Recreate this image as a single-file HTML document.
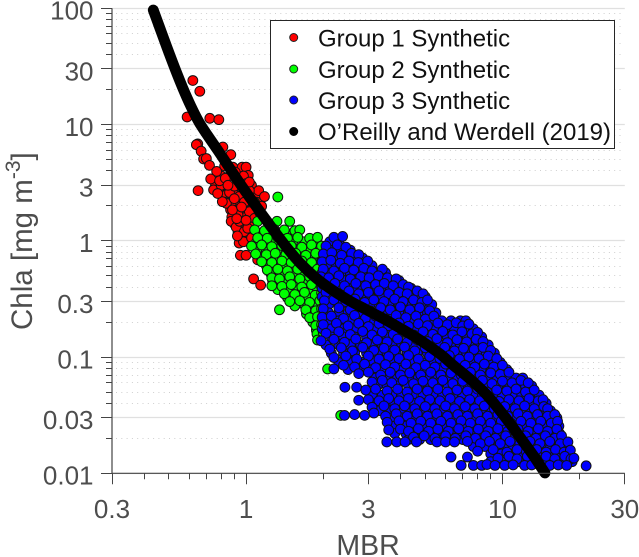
<!DOCTYPE html>
<html lang="en">
<head>
<meta charset="utf-8">
<title>Chla vs MBR</title>
<style>
html,body{margin:0;padding:0;background:#fff;width:639px;height:557px;overflow:hidden}
svg{display:block}
text{font-family:"Liberation Sans",Arial,sans-serif;fill:#4d4d4d}
.lg{fill:#111;font-size:24px}
</style>
</head>
<body>
<svg id="chart" width="639" height="557" viewBox="0 0 639 557" xmlns="http://www.w3.org/2000/svg">
<g id="grid"></g>
<g id="red"></g>
<g id="green"></g>
<g id="blue"></g>
<path id="curve" fill="none" stroke="#000" stroke-width="10.8" stroke-linecap="round" stroke-linejoin="round"/>
<g id="axes"></g>
<text x="368" y="555" text-anchor="middle" font-size="28.5">MBR</text>
<text transform="translate(32,330) rotate(-90)" font-size="29.5">Chla [mg m<tspan dy="-12" font-size="21">-3</tspan><tspan dy="12">]</tspan></text>
<g>
<rect x="270.5" y="20.5" width="344" height="128" fill="#fff" stroke="#262626" stroke-width="1"/>
<circle cx="293.7" cy="37.5" r="4" fill="#f00" stroke="#222"/>
<text class="lg" x="318" y="46.5">Group 1 Synthetic</text>
<circle cx="293.7" cy="69" r="4" fill="#0f0" stroke="#222"/>
<text class="lg" x="318" y="78">Group 2 Synthetic</text>
<circle cx="293.7" cy="100" r="4" fill="#00f" stroke="#222"/>
<text class="lg" x="318" y="109">Group 3 Synthetic</text>
<circle cx="293.7" cy="131.5" r="4" fill="#000" stroke="#000"/>
<text class="lg" x="318" y="140">O’Reilly and Werdell (2019)</text>
</g>
</svg>
<script>
const xMajorTicks = [0.3, 1, 3, 10, 30];
const xMinorTicks = [0.4, 0.5, 0.6, 0.7, 0.8, 0.9, 2, 4, 5, 6, 7, 8, 9, 20];
const yMajorTicks = [0.01, 0.03, 0.1, 0.3, 1, 3, 10, 30, 100];
const yMinorTicks = [0.02, 0.04, 0.05, 0.06, 0.07, 0.08, 0.09, 0.2, 0.4, 0.5, 0.6, 0.7, 0.8, 0.9, 2, 4, 5, 6, 7, 8, 9, 20, 40, 50, 60, 70, 80, 90];
const curveMbr = [0.4346, 0.4618, 0.4916, 0.528, 0.5675, 0.6097, 0.655, 0.7105, 0.796, 0.955, 1.185, 1.431, 1.623, 1.874, 2.183, 2.543, 2.962, 3.481, 3.983, 4.77, 5.71, 6.41, 7.47, 8.7, 10.23, 11.7, 13.15, 14.65];
const curveChla = [96.5, 66.9, 45.9, 30.3, 20.4, 14.3, 10.5, 7.96, 5.52, 3.02, 1.554, 0.892, 0.644, 0.478, 0.3734, 0.3033, 0.2538, 0.2102, 0.1777, 0.14, 0.1062, 0.0854, 0.0647, 0.0471, 0.0305, 0.0205, 0.01437, 0.01006];
const group1Points = [[.62,23.9],[.66,19.3],[.589,11.6],[.722,11.3],[.783,11],[.648,6.8],[.64,6.7],[.668,5.9],[.812,6.4],[.872,5.5],[.683,5.05],[.70,5.1],[.72,4.45],[.888,4.3],[.966,4.3],[1.0,4.3],[.768,3.95],[.728,3.4],[1.02,3.65],[.977,3.6],[.65,2.7],[.747,2.74],[.80,3.0],[.788,3.28],[1.0,3.1],[1.12,2.7],[1.18,2.4],[1.03,2.7],[.838,2.1],[.808,2.17],[.862,2.6],[1.15,1.98],[.875,1.47],[.93,1.67],[.915,1.31],[.985,1.2],[.94,.955],[.977,.98],[.95,.75],[1.0,.75],[1.11,.685],[1.07,.47],[1.14,.415],[.83,3.45],[.90,2.95],[.94,2.4],[.985,2.15],[.885,1.84],[1.03,1.78],[1.08,1.56],[.943,1.47],[1.015,1.28],[.925,1.1],[1.05,1.06],[.775,2.55],[.907,3.9],[.825,4.4],[.927,3.3],[1.03,3.2],[.85,3.0],[.9,2.3],[.96,1.95],[.92,1.55],[1.0,1.5]];
const group1DenseRows = [[3.6,[.8,.86,.93]],[3.0,[.76,.83,.93,.98,1.05]],[2.5,[.8,.84,.9,.97,1.05,1.1]],[2.15,[.84,.88,.95,1.04,1.1]],[1.85,[.87,.93,.98,1.05,1.1]],[1.6,[.88,.93,1.0,1.05,1.12]],[1.4,[.9,.96,1.02,1.08]],[1.2,[.93,.98,1.03,1.07]],[1.0,[.96,1.01,1.07]]];
const group2Points = [[1.33,2.38],[1.08,2.14],[1.13,1.75],[1.11,1.47],[1.32,1.47],[1.48,1.47],[1.08,1.24],[1.18,1.22],[1.29,1.25],[1.41,1.24],[1.55,1.22],[1.62,1.24],[1.11,1.06],[1.21,1.05],[1.33,1.07],[1.45,1.05],[1.59,1.07],[1.77,1.05],[1.9,1.07],[1.05,.9],[1.15,.92],[1.26,.89],[1.38,.91],[1.5,.9],[1.65,.88],[1.8,.92],[1.97,.9],[1.09,.77],[1.2,.76],[1.3,.78],[1.43,.76],[1.56,.78],[1.71,.75],[1.87,.78],[2.03,.76],[2.23,.75],[1.15,.66],[1.26,.65],[1.38,.67],[1.5,.65],[1.65,.67],[1.8,.65],[1.97,.67],[1.21,.56],[1.33,.57],[1.45,.55],[1.59,.57],[1.74,.55],[1.9,.57],[1.26,.48],[1.35,.47],[1.48,.49],[1.62,.47],[1.77,.49],[1.94,.47],[1.26,.41],[1.38,.405],[1.5,.42],[1.65,.4],[1.8,.42],[1.97,.4],[1.41,.35],[1.55,.345],[1.69,.36],[1.86,.34],[1.97,.355],[1.48,.3],[1.62,.305],[1.77,.295],[1.94,.305],[1.35,.255],[1.71,.255],[1.87,.25],[1.97,.26],[1.77,.218],[1.9,.222],[2.03,.214],[1.87,.186],[1.97,.19],[1.89,.158],[2.0,.162],[1.9,.14],[2.08,.079],[2.34,.0315]];
const group2DenseRows = [[1.15,[1.15,1.25,1.35,1.45,1.52]],[.98,[1.1,1.17,1.27,1.39,1.52,1.68,1.85]],[.83,[1.1,1.2,1.32,1.44,1.57,1.72,1.88,2.1]],[.71,[1.15,1.25,1.35,1.47,1.6,1.75,1.9,2.0]],[.61,[1.2,1.3,1.42,1.55,1.7,1.85,2.0]],[.52,[1.25,1.38,1.52,1.66,1.82,1.97]],[.445,[1.27,1.4,1.55,1.7,1.87]],[.38,[1.33,1.45,1.6,1.75,1.9]],[.325,[1.45,1.58,1.73,1.9]],[.275,[1.55,1.7,1.85,1.98]],[.235,[1.72,1.85,1.98]],[.2,[1.82,1.95]],[.17,[1.88,1.98]]];
const group3DenseRows = [
[.98,[2.12,2.3]],
[.83,[2.12,2.35,2.55]],
[.71,[2.06,2.25,2.45,2.68,2.85]],
[.61,[2.06,2.25,2.45,2.68,2.9,3.1]],
[.53,[1.98,2.15,2.35,2.55,2.75,2.98,3.25,3.5]],
[.455,[2.04,2.2,2.4,2.62,2.85,3.1,3.35,3.65,3.95]],
[.39,[1.98,2.15,2.35,2.6,2.85,3.1,3.35,3.65,4.0,4.4]],
[.33,[1.98,2.12,2.33,2.58,2.8,3.05,3.35,3.68,4.0,4.35,4.7,5.0]],
[.283,[2.1,2.35,2.55,2.8,3.05,3.3,3.6,3.95,4.3,4.65,5.0,5.3]],
[.24,[2.1,2.3,2.5,2.75,3.0,3.3,3.6,3.95,4.3,4.7,5.1,5.5]],
[.205,[2.1,2.3,2.55,2.85,3.1,3.4,3.75,4.05,4.45,4.85,5.3,5.8,6.3,6.85,7.2]],
[.175,[1.98,2.15,2.4,2.65,2.9,3.2,3.5,3.85,4.2,4.6,5.0,5.45,5.95,6.5,7.1,7.7]],
[.149,[2.15,2.4,2.65,2.95,3.25,3.55,3.9,4.3,4.65,5.1,5.6,6.1,6.7,7.3,8.0,8.3]],
[.127,[2.05,2.3,2.55,2.8,3.1,3.4,3.7,4.05,4.45,4.85,5.3,5.75,6.3,6.85,7.5,8.2,8.8]],
[.108,[2.15,2.4,2.65,2.95,3.25,3.55,3.85,4.25,4.65,5.1,5.55,6.05,6.65,7.25,7.95,8.65,9.3]],
[.09,[2.3,2.55,2.85,3.1,3.4,3.7,4.05,4.45,4.85,5.3,5.8,6.35,6.95,7.6,8.3,9.1,9.8]],
[.078,[2.5,2.8,3.1,3.4,3.75,4.1,4.45,4.85,5.3,5.8,6.35,6.95,7.55,8.25,9.05,9.85,10.4]],
[.066,[3.2,3.55,3.9,4.3,4.7,5.15,5.6,6.1,6.7,7.3,8.0,8.7,9.55,10.4,11.3,12.0]],
[.0565,[3.25,3.55,3.9,4.3,4.7,5.15,5.6,6.15,6.75,7.35,8.05,8.8,9.6,10.5,11.4,12.3,13.0]],
[.047,[3.1,3.4,3.7,4.05,4.45,4.9,5.35,5.85,6.4,7.0,7.65,8.35,9.15,10.0,10.9,11.9,12.9,13.9]],
[.04,[3.2,3.5,3.8,4.15,4.55,5.0,5.45,6.0,6.55,7.15,7.8,8.55,9.3,10.2,11.1,12.2,13.2,14.2,14.8]],
[.0345,[3.3,3.65,4.0,4.4,4.8,5.3,5.8,6.35,6.95,7.6,8.3,9.1,9.9,10.9,11.9,12.9,14.1,15.4]],
[.03,[3.7,4.05,4.45,4.9,5.3,5.85,6.4,7.0,7.65,8.35,9.15,10.0,11.0,12.0,13.1,14.4,15.7,16.3]],
[.0255,[3.8,4.2,4.55,5.0,5.45,5.95,6.5,7.1,7.8,8.5,9.3,10.2,11.1,12.2,13.3,14.5,15.8,16.6]],
[.022,[3.8,4.2,4.7,5.2,5.7,6.25,6.85,7.5,8.2,9.0,9.8,10.8,11.8,12.9,14.1,15.4,16.7]],
[.0195,[4.3,4.75,5.25,5.8,6.3,7.0,7.6,8.3,9.1,10.0,10.9,11.9,13.0,14.2,15.5,17.0]],
[.017,[7.7,8.55,9.4,10.2,11.0,11.9,13.0,14.2,15.4,16.6,17.8]],
[.0147,[9.0,9.9,11.0,11.9,13.0,14.2,15.4,16.8,18.0]],
[.0126,[9.0,9.9,10.7,11.6,12.6,13.8,14.9,16.2,17.4,18.7]]
];
const group3Points = [
[2.2,1.07],[2.38,1.09],
[2.05,.9],[2.27,.92],[2.45,.88],
[2.0,.77],[2.16,.79],[2.36,.75],[2.58,.78],[2.75,.76],
[1.98,.66],[2.14,.68],[2.33,.64],[2.52,.67],[2.74,.65],[2.98,.67],
[2.0,.57],[2.2,.55],[2.42,.58],[2.63,.56],[2.88,.58],[3.1,.55],[3.4,.57],
[1.96,.49],[2.1,.48],[2.3,.5],[2.55,.47],[2.8,.49],[3.02,.48],[3.28,.5],[3.56,.48],[3.85,.47],
[2.0,.42],[2.22,.43],[2.42,.41],[2.68,.43],[2.93,.41],[3.2,.42],[3.46,.43],[3.75,.41],[4.1,.42],[4.3,.4],
[2.05,.36],[2.3,.35],[2.52,.37],[2.75,.35],[3.0,.36],[3.3,.37],[3.6,.35],[3.95,.36],[4.25,.35],[4.65,.37],[4.9,.35],
[2.02,.305],[2.2,.31],[2.45,.3],[2.66,.315],[2.9,.295],[3.15,.31],[3.45,.3],[3.8,.315],[4.1,.3],[4.5,.31],[4.85,.295],[5.1,.31],
[2.0,.26],[2.3,.265],[2.55,.255],[2.8,.27],[3.05,.25],[3.35,.265],[3.65,.255],[4.0,.27],[4.35,.255],[4.75,.265],[5.2,.25],
[1.98,.22],[2.15,.225],[2.4,.215],[2.65,.228],[2.92,.215],[3.2,.225],[3.5,.212],[3.85,.228],[4.2,.218],[4.6,.225],[5.0,.212],[5.4,.225],
[2.0,.19],[2.25,.195],[2.5,.185],[2.75,.195],[3.0,.183],[3.3,.194],[3.6,.186],[3.95,.196],[4.3,.184],[4.7,.193],[5.1,.186],[5.6,.196],[6.1,.19],[6.6,.197],[7.0,.185],[7.4,.192],
[2.05,.16],[2.3,.165],[2.55,.156],[2.85,.166],[3.1,.155],[3.4,.164],[3.75,.157],[4.1,.166],[4.5,.155],[4.9,.165],[5.35,.157],[5.85,.166],[6.4,.155],[6.95,.165],[7.6,.158],[8.0,.163],
[1.96,.138],[2.2,.142],[2.42,.134],[2.68,.143],[2.95,.133],[3.25,.14],[3.55,.135],[3.9,.143],[4.25,.134],[4.65,.141],[5.1,.136],[5.55,.144],[6.1,.133],[6.65,.141],[7.25,.135],[7.9,.142],[8.4,.136],
[2.12,.117],[2.35,.12],[2.6,.113],[2.85,.121],[3.15,.114],[3.45,.119],[3.8,.115],[4.15,.122],[4.55,.113],[5.0,.12],[5.4,.115],[5.95,.121],[6.5,.113],[7.05,.119],[7.75,.116],[8.4,.121],[9.0,.114],
[2.2,.099],[2.45,.102],[2.7,.096],[3.0,.102],[3.3,.096],[3.6,.101],[3.95,.097],[4.3,.103],[4.7,.096],[5.2,.101],[5.7,.097],[6.2,.103],[6.8,.096],[7.4,.1],[8.1,.097],[8.8,.102],[9.5,.097],
[2.2,.079],[2.4,.085],[2.65,.082],[2.9,.087],[3.2,.081],[3.5,.086],[3.8,.082],[4.2,.087],[4.6,.081],[5.0,.085],[5.45,.082],[6.0,.087],[6.55,.081],[7.15,.085],[7.8,.082],[8.5,.087],[9.25,.082],[10.0,.085],
[2.75,.072],[3.0,.074],[3.35,.07],[3.65,.074],[4.0,.07],[4.35,.073],[4.8,.07],[5.25,.074],[5.75,.07],[6.3,.073],[6.9,.07],[7.5,.074],[8.2,.07],[9.0,.073],[9.8,.071],[10.6,.074],
[2.43,.055],[2.7,.055],
[3.1,.061],[3.4,.063],[3.7,.06],[4.1,.063],[4.5,.059],[4.9,.062],[5.35,.06],[5.85,.063],[6.4,.059],[7.0,.062],[7.6,.06],[8.35,.063],[9.1,.059],[10.0,.062],[10.9,.06],[11.8,.063],[12.6,.06],
[2.93,.052],[3.2,.053],[3.55,.051],[3.9,.053],[4.25,.05],[4.65,.053],[5.1,.051],[5.6,.053],[6.1,.05],[6.65,.052],[7.3,.051],[8.0,.053],[8.7,.05],[9.5,.052],[10.4,.051],[11.3,.053],[12.3,.05],[13.3,.052],
[2.75,.0425],[3.0,.043],[3.3,.042],[3.6,.044],[3.95,.042],[4.3,.044],[4.75,.0415],[5.2,.043],[5.7,.042],[6.25,.044],[6.8,.0415],[7.45,.043],[8.15,.042],[8.9,.044],[9.7,.0415],[10.6,.043],[11.6,.042],[12.7,.044],[13.8,.042],[14.4,.043],
[3.1,.037],[3.45,.038],[3.8,.036],[4.15,.038],[4.55,.036],[5.0,.0375],[5.45,.036],[6.0,.038],[6.5,.036],[7.15,.0375],[7.8,.036],[8.5,.038],[9.3,.036],[10.2,.0375],[11.2,.036],[12.2,.038],[13.3,.036],[14.5,.0375],[15.0,.036],
[2.42,.0315],[2.65,.032],[2.9,.0315],[3.15,.033],[3.5,.031],[3.85,.0325],[4.25,.031],[4.65,.0325],[5.1,.031],[5.55,.0325],[6.1,.031],[6.7,.032],[7.3,.031],[8.0,.0325],[8.75,.031],[9.6,.032],[10.5,.031],[11.5,.0325],[12.5,.031],[13.7,.032],[15.0,.031],[16.0,.032],
[3.55,.0275],[3.95,.0282],[4.4,.027],[4.8,.028],[5.25,.027],[5.75,.028],[6.3,.027],[6.9,.0282],[7.5,.027],[8.2,.028],[9.0,.027],[9.9,.0282],[10.8,.027],[11.8,.028],[12.9,.027],[14.1,.028],[15.5,.027],[16.4,.028],
[3.6,.0236],[4.0,.024],[4.3,.023],[4.7,.0242],[5.15,.023],[5.6,.024],[6.15,.023],[6.75,.0242],[7.35,.023],[8.05,.024],[8.8,.023],[9.6,.0242],[10.5,.023],[11.5,.024],[12.6,.023],[13.8,.0242],[15.0,.023],[16.3,.024],
[4.5,.0205],[4.95,.021],[5.45,.02],[6.0,.021],[6.55,.02],[7.2,.021],[7.85,.02],[8.6,.021],[9.4,.02],[10.3,.021],[11.2,.02],[12.3,.021],[13.5,.02],[14.7,.021],[16.0,.02],[17.0,.021],
[3.54,.0186],[3.87,.0186],[4.17,.0186],[4.62,.0186],[5.55,.0186],[6.0,.0186],[6.5,.0186],[7.3,.0188],[8.2,.018],[8.9,.0188],[9.8,.018],[10.7,.0188],[11.7,.018],[12.8,.0188],[14.0,.018],[15.3,.0188],[16.8,.018],[18.0,.0186],
[8.0,.0155],[9.2,.016],[10.4,.0152],[11.4,.016],[12.4,.0152],[13.6,.016],[14.8,.0152],[16.1,.016],[17.4,.0152],[18.4,.0158],
[6.3,.0138],[7.3,.0138],[9.6,.0135],[10.6,.014],[11.4,.0133],[12.5,.014],[13.6,.0133],[14.8,.014],[16.0,.0133],[17.5,.014],[18.5,.0133],[19.0,.0135],
[6.9,.0117],[7.7,.0117],[8.3,.0117],[8.7,.0119],[9.35,.0117],[10.2,.0117],[11.0,.0118],[12.2,.0117],[13.0,.0118],[14.0,.0117],[15.3,.0117],[16.5,.0118],[17.8,.0117],[21.2,.0116]
];

const svgNS = 'http://www.w3.org/2000/svg';
const plotLeft = 112, plotRight = 624.8, plotTop = 8.2, plotBottom = 473.3;
function xScale(v) { return plotLeft + (Math.log10(v) - Math.log10(0.3)) / 2 * (plotRight - plotLeft); }
function yScale(v) { return plotBottom - (Math.log10(v) + 2) / 4 * (plotBottom - plotTop); }
function snap(v) { return Math.floor(v) + 0.5; }
function make(tag, parent, attrs) {
  const el = document.createElementNS(svgNS, tag);
  for (const k in attrs) el.setAttribute(k, attrs[k]);
  parent.appendChild(el);
  return el;
}
const grid = document.getElementById('grid');
const axes = document.getElementById('axes');
yMajorTicks.forEach(function (v) {
  const y = yScale(v);
  const sy = snap(y);
  const line = make('line', grid, {x1: plotLeft, x2: plotRight, y1: sy, y2: sy, stroke: '#e0e0e0', 'stroke-width': 1.2});
  
  
  const tick = make('line', axes, {x1: plotLeft - 11, x2: plotLeft, y1: sy, y2: sy, stroke: '#444', 'stroke-width': 1});
  
  
  const label = make('text', axes, {x: 93.5, y: y + 11.3, 'text-anchor': 'end', 'font-size': 26});
  
  
  label.textContent = String(v);
});
yMinorTicks.forEach(function (v) {
  const sy = snap(yScale(v));
  const line = make('line', grid, {x1: plotLeft + 4, x2: plotRight, y1: sy, y2: sy, stroke: '#cfcfcf', 'stroke-width': 1, 'stroke-dasharray': '1 4.3'});
  
  
  const tick = make('line', axes, {x1: plotLeft - 6, x2: plotLeft, y1: sy, y2: sy, stroke: '#444', 'stroke-width': 1});
  
  
});
xMajorTicks.forEach(function (v) {
  const x = xScale(v);
  const sx = snap(x);
  const tick = make('line', axes, {x1: sx, x2: sx, y1: plotBottom, y2: plotBottom + 11, stroke: '#444', 'stroke-width': 1});
  
  
  const label = make('text', axes, {x: x, y: 518, 'text-anchor': 'middle', 'font-size': 26});
  
  
  label.textContent = String(v);
});
xMinorTicks.forEach(function (v) {
  const sx = snap(xScale(v));
  const tick = make('line', axes, {x1: sx, x2: sx, y1: plotBottom, y2: plotBottom + 6, stroke: '#444', 'stroke-width': 1});
  
  
});
const yAxisLine = make('line', axes, {x1: plotLeft, x2: plotLeft, y1: plotTop, y2: plotBottom, stroke: '#444', 'stroke-width': 1.2});


const xAxisLine = make('line', axes, {x1: plotLeft, x2: plotRight, y1: plotBottom, y2: plotBottom, stroke: '#444', 'stroke-width': 1.2});


function drawPoint(g, mbr, chla, fill) {
  const c = make('circle', g, {cx: xScale(mbr), cy: yScale(chla), r: 4.9, fill: fill, stroke: '#111', 'stroke-width': 1});
  
  
}
function drawGroup(rows, points, groupId, fill) {
  const g = document.getElementById(groupId);
  rows.forEach(function (row) {
    row[1].forEach(function (mbr) { drawPoint(g, mbr, row[0], fill); });
  });
  points.forEach(function (p) { drawPoint(g, p[0], p[1], fill); });
}
drawGroup(group1DenseRows, group1Points, 'red', '#f00');
drawGroup(group2DenseRows, group2Points, 'green', '#0f0');
drawGroup(group3DenseRows, group3Points, 'blue', '#00f');
const curvePx = curveMbr.map(function (m, i) { return [xScale(m), yScale(curveChla[i])]; });
let curvePath = 'M' + curvePx[0][0].toFixed(2) + ' ' + curvePx[0][1].toFixed(2);
for (let i = 0; i < curvePx.length - 1; i++) {
  const p0 = curvePx[Math.max(i - 1, 0)], p1 = curvePx[i], p2 = curvePx[i + 1], p3 = curvePx[Math.min(i + 2, curvePx.length - 1)];
  curvePath += ' C' + (p1[0] + (p2[0] - p0[0]) / 6).toFixed(2) + ' ' + (p1[1] + (p2[1] - p0[1]) / 6).toFixed(2) + ' ' +
    (p2[0] - (p3[0] - p1[0]) / 6).toFixed(2) + ' ' + (p2[1] - (p3[1] - p1[1]) / 6).toFixed(2) + ' ' + p2[0].toFixed(2) + ' ' + p2[1].toFixed(2);
}
document.getElementById('curve').setAttribute('d', curvePath);
</script>
</body>
</html>
